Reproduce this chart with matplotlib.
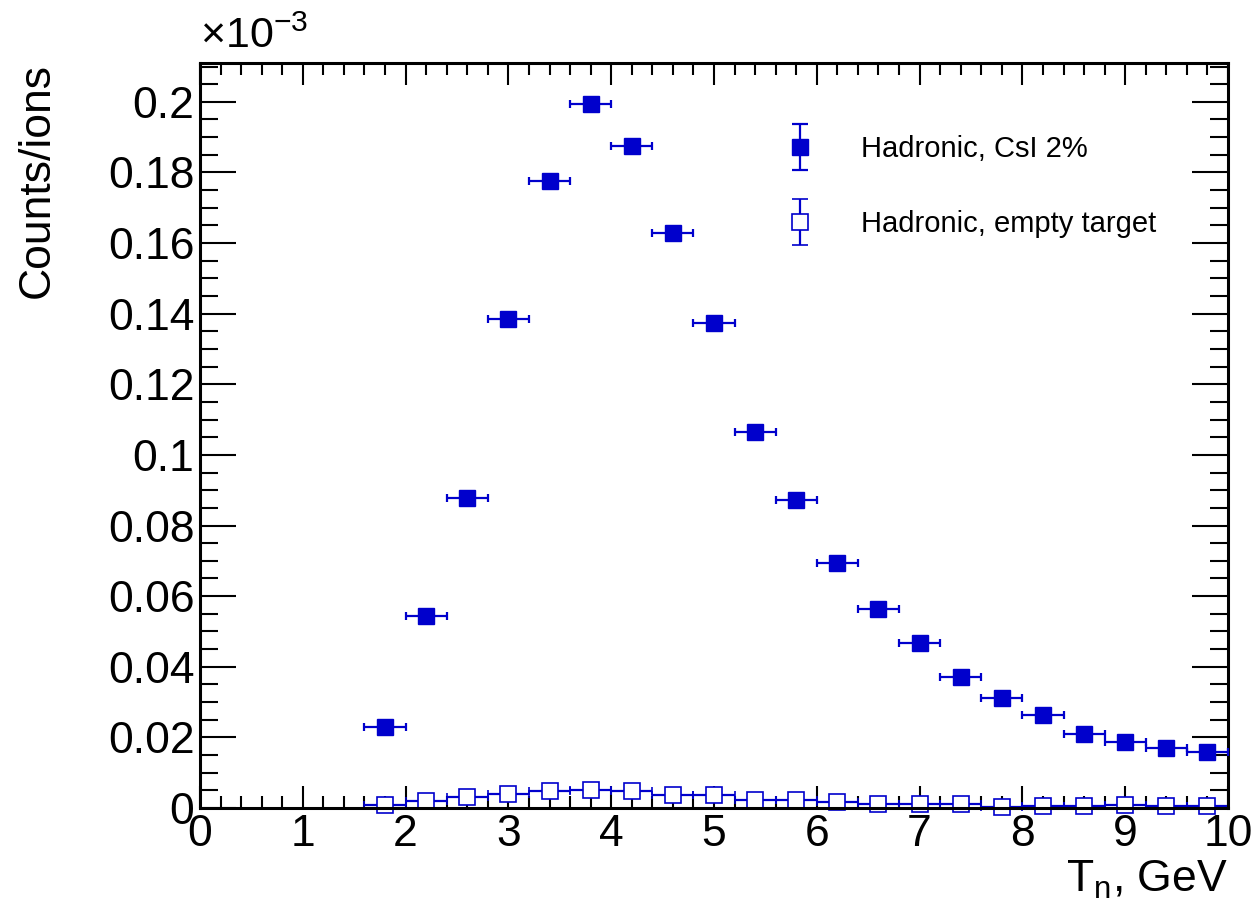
import matplotlib
matplotlib.use("Agg")
import matplotlib.pyplot as plt
from matplotlib.ticker import MultipleLocator, FuncFormatter
from matplotlib.legend_handler import HandlerErrorbar
import numpy as np

plt.rcParams['font.family'] = ['Liberation Sans', 'DejaVu Sans']

# Data (Counts/ions in units of 1e-3)
tn_centers = [1.8, 2.2, 2.6, 3.0, 3.4, 3.8, 4.2, 4.6, 5.0, 5.4, 5.8,
              6.2, 6.6, 7.0, 7.4, 7.8, 8.2, 8.6, 9.0, 9.4, 9.8]
bin_half_width = 0.2
csi_counts = [0.0229, 0.0544, 0.0878, 0.1385, 0.1776, 0.1994, 0.1875, 0.1629,
              0.1374, 0.1065, 0.0873, 0.0694, 0.0564, 0.0467, 0.0371, 0.0312,
              0.0263, 0.0210, 0.0187, 0.0170, 0.0159]
empty_counts = [0.0008, 0.0020, 0.0030, 0.0040, 0.0047, 0.0052, 0.0047, 0.0037,
                0.0036, 0.0023, 0.0023, 0.0017, 0.0010, 0.0012, 0.0012, 0.0004,
                0.0005, 0.0005, 0.0008, 0.0005, 0.0005]
labels = ["Hadronic, CsI 2%", "Hadronic, empty target"]

blue = '#0000cc'
W, H = 1257, 910
fig = plt.figure(figsize=(W / 100, H / 100), dpi=100)
ax = fig.add_axes([200 / W, 1 - 808 / H, (1228 - 200) / W, (808 - 63) / H])

ms = 12
ax.errorbar(tn_centers, csi_counts, xerr=bin_half_width, fmt='s', color=blue,
            ms=ms, mec=blue, mfc=blue, elinewidth=1.6, capsize=3, capthick=1.6,
            clip_on=False, zorder=3)
ax.errorbar(tn_centers, empty_counts, xerr=bin_half_width, fmt='s', color=blue,
            ms=ms, mec=blue, mfc='white', mew=1.2, elinewidth=1.6, capsize=3,
            capthick=1.6, clip_on=False, zorder=2)

ax.set_xlim(0, 10)
ax.set_ylim(0, 0.2110)

ax.xaxis.set_major_locator(MultipleLocator(1))
ax.xaxis.set_minor_locator(MultipleLocator(0.2))
ax.yaxis.set_major_locator(MultipleLocator(0.02))
ax.yaxis.set_minor_locator(MultipleLocator(0.005))
ax.yaxis.set_major_formatter(FuncFormatter(lambda v, p: '%g' % round(v, 4)))
ax.xaxis.set_major_formatter(FuncFormatter(lambda v, p: '%g' % v))

ax.tick_params(axis='x', which='major', direction='in', length=16, width=1.5,
               top=True, labelsize=32, pad=4)
ax.tick_params(axis='x', which='minor', direction='in', length=8.5, width=1.5, top=True)
ax.tick_params(axis='y', which='major', direction='in', length=26, width=1.5,
               right=True, labelsize=32, pad=4)
ax.tick_params(axis='y', which='minor', direction='in', length=13, width=1.5, right=True)
for s in ax.spines.values():
    s.set_linewidth(2.2)

ax.set_xlabel('T$_{\\mathregular{n}}$, GeV', fontsize=32, loc='right')
ax.xaxis.set_label_coords(1.0, -0.068)
ax.set_ylabel('Counts/ions', fontsize=32, loc='top')
ax.yaxis.set_label_coords(-0.138, 1.0)
ax.text(0.0, 1.008, '×10$^{\\mathregular{-3}}$', transform=ax.transAxes,
        fontsize=31, ha='left', va='bottom')

# Legend proxies (vertical error bars only, like ROOT "ep")
h1 = ax.errorbar([np.nan], [np.nan], yerr=[1], fmt='s', color=blue, ms=ms,
                 mfc=blue, mec=blue, elinewidth=1.6, capsize=6, capthick=1.6)
h2 = ax.errorbar([np.nan], [np.nan], yerr=[1], fmt='s', color=blue, ms=ms,
                 mfc='white', mec=blue, mew=1.2, elinewidth=1.6, capsize=6, capthick=1.6)
leg = ax.legend([h1, h2], labels, loc='center left', bbox_to_anchor=(0.558, 0.834),
                frameon=False, fontsize=21, handlelength=1.0, handletextpad=1.6,
                labelspacing=1.6, borderaxespad=0,
                handler_map={type(h1): HandlerErrorbar(yerr_size=0.78)})

fig.savefig('out.png', dpi=100, facecolor='white')
